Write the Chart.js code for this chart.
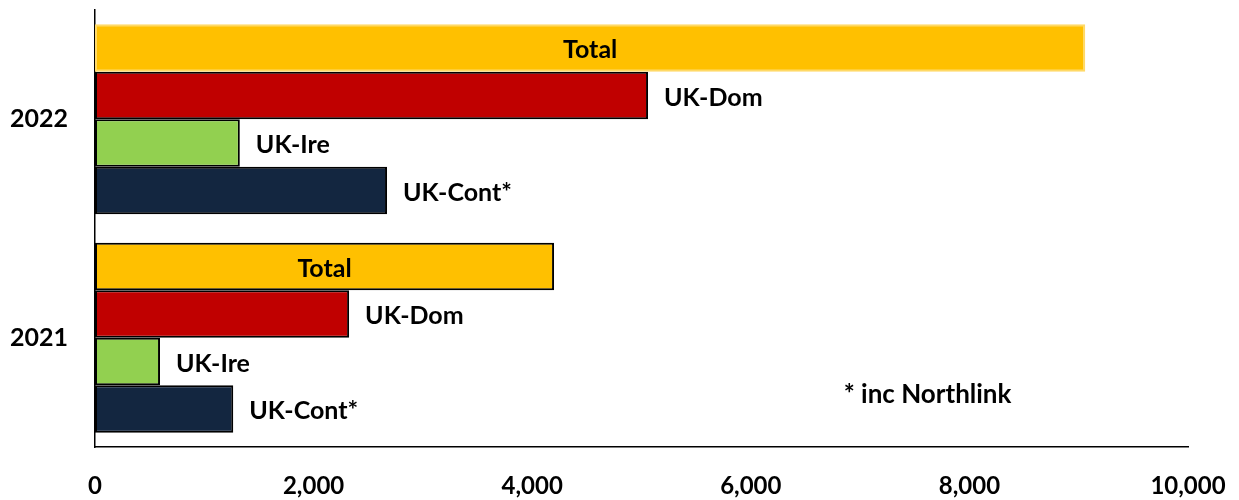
<!DOCTYPE html>
<html><head><meta charset="utf-8">
<script src="https://cdn.jsdelivr.net/npm/chart.js@4"></script>
<style>html,body{margin:0;padding:0;background:#fff;}#wrap{width:1239px;height:500px;}</style>
</head><body><div id="wrap"><canvas id="c"></canvas></div>
<script>
const categories = ['2022', '2021'];
const seriesNames = ['Total', 'UK-Dom', 'UK-Ire', 'UK-Cont*'];
const totalValues = [9060, 4200];
const ukDomValues = [5060, 2325];
const ukIreValues = [1325, 595];
const ukContValues = [2672, 1265];
const xTicks = [0, 2000, 4000, 6000, 8000, 10000];
const footnote = '* inc Northlink';

const FONT = 'Lato, "Open Sans", sans-serif';

const labelPlugin = {
  id: 'barLabels',
  afterDatasetsDraw(chart) {
    const ctx = chart.ctx;
    ctx.save();
    ctx.fillStyle = '#000';
    ctx.textBaseline = 'middle';
    chart.data.datasets.forEach((ds, di) => {
      const meta = chart.getDatasetMeta(di);
      meta.data.forEach((bar) => {
        if (di === 0) {
          ctx.font = 'bold 25px ' + FONT;
          ctx.textAlign = 'center';
          ctx.fillText(ds.label, (bar.base + bar.x) / 2, bar.y + 2);
        } else {
          ctx.font = 'bold 25px ' + FONT;
          ctx.textAlign = 'left';
          ctx.fillText(ds.label, bar.x + 16, bar.y + 2);
        }
      });
    });
    const xs = chart.scales.x;
    ctx.font = 'bold 26px ' + FONT;
    ctx.textAlign = 'left';
    ctx.fillText(footnote, xs.getPixelForValue(6850), 395);
    ctx.restore();
  }
};

new Chart(document.getElementById('c'), {
  type: 'bar',
  data: {
    labels: categories,
    datasets: [
      { label: seriesNames[0], data: totalValues, backgroundColor: '#FFC000', borderColor: ['#FFD966', '#000000'], borderWidth: 2, borderSkipped: false },
      { label: seriesNames[1], data: ukDomValues, backgroundColor: '#C00000', borderColor: '#000', borderWidth: 2, borderSkipped: false },
      { label: seriesNames[2], data: ukIreValues, backgroundColor: '#92D050', borderColor: '#000', borderWidth: 2, borderSkipped: false },
      { label: seriesNames[3], data: ukContValues, backgroundColor: '#132640', borderColor: '#000', borderWidth: 2, borderSkipped: false }
    ]
  },
  options: {
    indexAxis: 'y',
    responsive: true,
    maintainAspectRatio: false,
    animation: false,
    layout: { padding: { top: 10, right: 51, left: 0, bottom: 0 } },
    plugins: { legend: { display: false }, tooltip: { enabled: false } },
    datasets: { bar: { categoryPercentage: 0.87, barPercentage: 1.0 } },
    scales: {
      x: {
        min: 0, max: 10000,
        afterBuildTicks(scale) { scale.ticks = xTicks.map(v => ({ value: v })); },
        afterFit(scale) { scale.height = 53; scale.paddingLeft = 0; scale.paddingRight = 0; },
        grid: { display: false, drawTicks: false },
        border: { display: true, color: '#000', width: 1.5 },
        ticks: {
          padding: 25,
          color: '#000',
          maxRotation: 0,
          font: { family: FONT, size: 24, weight: 'bold' },
          callback: (v) => Number(v).toLocaleString('en-US')
        }
      },
      y: {
        afterFit(scale) { scale.width = 95; scale.paddingTop = 0; scale.paddingBottom = 0; },
        grid: { display: false, drawTicks: false },
        border: { display: true, color: '#000', width: 1.5 },
        ticks: {
          padding: 27,
          color: '#000',
          font: { family: FONT, size: 25, weight: 'bold' }
        }
      }
    }
  },
  plugins: [labelPlugin]
});
</script>
</body></html>
